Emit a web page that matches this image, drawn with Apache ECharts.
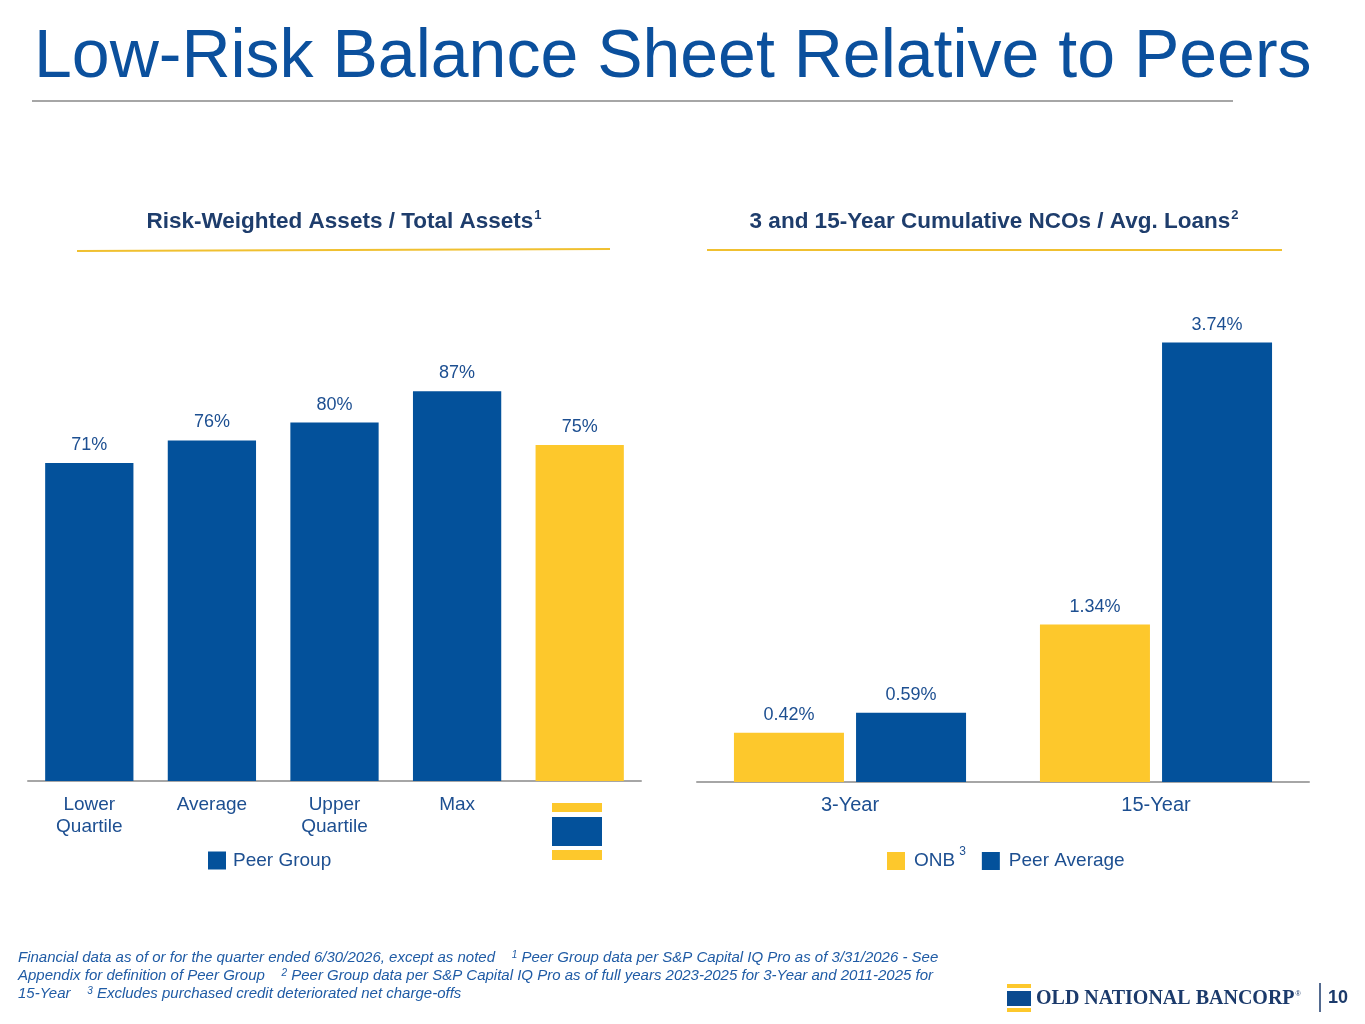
<!DOCTYPE html>
<html>
<head>
<meta charset="utf-8">
<script src="https://cdn.jsdelivr.net/npm/echarts@6/dist/echarts.min.js"></script>
<style>
html,body{margin:0;padding:0;background:#fff;}
#main{width:1365px;height:1024px;}
</style>
</head>
<body>
<div id="main"></div>
<script>
// 左图：风险加权资产 / 总资产
var rwaCats = ['Lower\nQuartile', 'Average', 'Upper\nQuartile', 'Max', ''];
var rwaVals = [71, 76, 80, 87, 75];
// 右图：累计净核销 / 平均贷款
var ncoCats = ['3-Year', '15-Year'];
var onbVals = [0.42, 1.34];
var peerVals = [0.59, 3.74];

var BLUE = '#03519b';
var YELLOW = '#fdc82c';
var LABEL = '#1d4f91';
var NAVY = '#1e3d6c';

var myChart = echarts.init(document.getElementById('main'));

var rwaData = [];
for (var i = 0; i < rwaVals.length; i++) {
    rwaData.push({
        value: rwaVals[i],
        itemStyle: {color: i == rwaVals.length - 1 ? YELLOW : BLUE}
    });
}

var option = {
    animation: false,
    textStyle: {fontFamily: 'Liberation Sans, Arial, sans-serif'},
    grid: [
        {left: 28, top: 333, width: 613, height: 448},
        {left: 697, top: 312, width: 612, height: 470}
    ],
    xAxis: [
        {
            gridIndex: 0, type: 'category', data: rwaCats,
            axisLine: {lineStyle: {color: '#a6a6a6', width: 2}},
            axisTick: {show: false},
            axisLabel: {color: LABEL, fontSize: 19, lineHeight: 22, margin: 13}
        },
        {
            gridIndex: 1, type: 'category', data: ncoCats,
            axisLine: {lineStyle: {color: '#a6a6a6', width: 2}},
            axisTick: {show: false},
            axisLabel: {color: LABEL, fontSize: 20, margin: 13}
        }
    ],
    yAxis: [
        {gridIndex: 0, type: 'value', min: 0, max: 100, show: false},
        {gridIndex: 1, type: 'value', min: 0, max: 4, show: false}
    ],
    legend: [
        {
            data: ['Peer Group'], left: 203, top: 846,
            itemWidth: 18, itemHeight: 18, icon: 'rect',
            textStyle: {color: LABEL, fontSize: 19, padding: [0, 0, 0, 2]}
        },
        {
            data: ['ONB', 'Peer Average'], left: 882, top: 841,
            itemWidth: 18, itemHeight: 18, icon: 'rect', itemGap: 16,
            formatter: function (name) {
                return name == 'ONB' ? 'ONB{s|3}' : name;
            },
            textStyle: {color: LABEL, fontSize: 19, padding: [0, 0, 0, 4],
                rich: {s: {fontSize: 12, color: LABEL, padding: [0, 0, 18, 4]}}}
        }
    ],
    series: [
        {
            name: 'Peer Group', type: 'bar', xAxisIndex: 0, yAxisIndex: 0,
            data: rwaData, barWidth: '72%', color: BLUE,
            label: {
                show: true, position: 'top', distance: 9, color: LABEL, fontSize: 18,
                formatter: function (p) { return p.value + '%'; }
            }
        },
        {
            name: 'ONB', type: 'bar', xAxisIndex: 1, yAxisIndex: 1,
            data: onbVals, barWidth: 110, barGap: '11%', color: YELLOW,
            label: {
                show: true, position: 'top', distance: 9, color: LABEL, fontSize: 18,
                formatter: function (p) { return p.value.toFixed(2) + '%'; }
            }
        },
        {
            name: 'Peer Average', type: 'bar', xAxisIndex: 1, yAxisIndex: 1,
            data: peerVals, barWidth: 110, barGap: '11%', color: BLUE,
            label: {
                show: true, position: 'top', distance: 9, color: LABEL, fontSize: 18,
                formatter: function (p) { return p.value.toFixed(2) + '%'; }
            }
        }
    ],
    graphic: [
        // 标题
        {type: 'text', left: 34, top: 24, style: {text: 'Low-Risk Balance Sheet Relative to Peers', fill: '#0b509d', font: '68px "Liberation Sans", Arial, sans-serif'}},
        {type: 'line', shape: {x1: 32, y1: 101, x2: 1233, y2: 101}, style: {stroke: '#a6a6a6', lineWidth: 2}},
        // 小标题
        {type: 'text', x: 344, y: 222, style: {
            text: 'Risk-Weighted Assets / Total Assets{s|1}', align: 'center', verticalAlign: 'middle',
            fill: NAVY, font: 'bold 22.5px "Liberation Sans", Arial, sans-serif',
            rich: {s: {fontSize: 13, fontWeight: 'bold', fill: NAVY, padding: [0, 0, 13, 1]}}
        }},
        {type: 'line', shape: {x1: 77, y1: 251, x2: 610, y2: 249}, style: {stroke: '#f0c030', lineWidth: 2}},
        {type: 'text', x: 994, y: 222, style: {
            text: '3 and 15-Year Cumulative NCOs / Avg. Loans{s|2}', align: 'center', verticalAlign: 'middle',
            fill: NAVY, font: 'bold 22.5px "Liberation Sans", Arial, sans-serif',
            rich: {s: {fontSize: 13, fontWeight: 'bold', fill: NAVY, padding: [0, 0, 13, 1]}}
        }},
        {type: 'line', shape: {x1: 707, y1: 250, x2: 1282, y2: 250}, style: {stroke: '#f0c030', lineWidth: 2}},
        // ONB 标志（第五个柱子的类目）
        {type: 'rect', shape: {x: 552, y: 803, width: 50, height: 9}, style: {fill: YELLOW}},
        {type: 'rect', shape: {x: 552, y: 817, width: 50, height: 29}, style: {fill: BLUE}},
        {type: 'rect', shape: {x: 552, y: 850, width: 50, height: 10}, style: {fill: YELLOW}},
        // 脚注
        {type: 'text', left: 18, top: 949, style: {
            text: 'Financial data as of or for the quarter ended 6/30/2026, except as noted    {s|1} Peer Group data per S&P Capital IQ Pro as of 3/31/2026 - See\n' +
                  'Appendix for definition of Peer Group    {s|2} Peer Group data per S&P Capital IQ Pro as of full years 2023-2025 for 3-Year and 2011-2025 for\n' +
                  '15-Year    {s|3} Excludes purchased credit deteriorated net charge-offs',
            fill: '#1f5ba5', font: 'italic 15px "Liberation Sans", Arial, sans-serif', lineHeight: 18,
            rich: {s: {fontSize: 10, fontStyle: 'italic', fill: '#1f5ba5', padding: [0, 0, 6, 0]}}
        }},
        // 页脚标志
        {type: 'rect', shape: {x: 1007, y: 984, width: 24, height: 4}, style: {fill: YELLOW}},
        {type: 'rect', shape: {x: 1007, y: 991, width: 24, height: 15}, style: {fill: '#0a4a8f'}},
        {type: 'rect', shape: {x: 1007, y: 1008, width: 24, height: 4}, style: {fill: YELLOW}},
        {type: 'text', left: 1036, top: 989, style: {
            text: 'OLD NATIONAL BANCORP{r|®}', fill: '#1b3a6b', font: 'bold 20px "Liberation Serif", "Times New Roman", serif',
            rich: {r: {fontSize: 7, fill: '#1b3a6b', padding: [0, 0, 10, 1]}}
        }},
        {type: 'line', shape: {x1: 1320, y1: 983, x2: 1320, y2: 1012}, style: {stroke: '#1b3a6b', lineWidth: 1.5}},
        {type: 'text', left: 1328, top: 989, style: {text: '10', fill: '#1b3a6b', font: 'bold 18px "Liberation Sans", Arial, sans-serif'}}
    ]
};

myChart.setOption(option);
</script>
</body>
</html>
